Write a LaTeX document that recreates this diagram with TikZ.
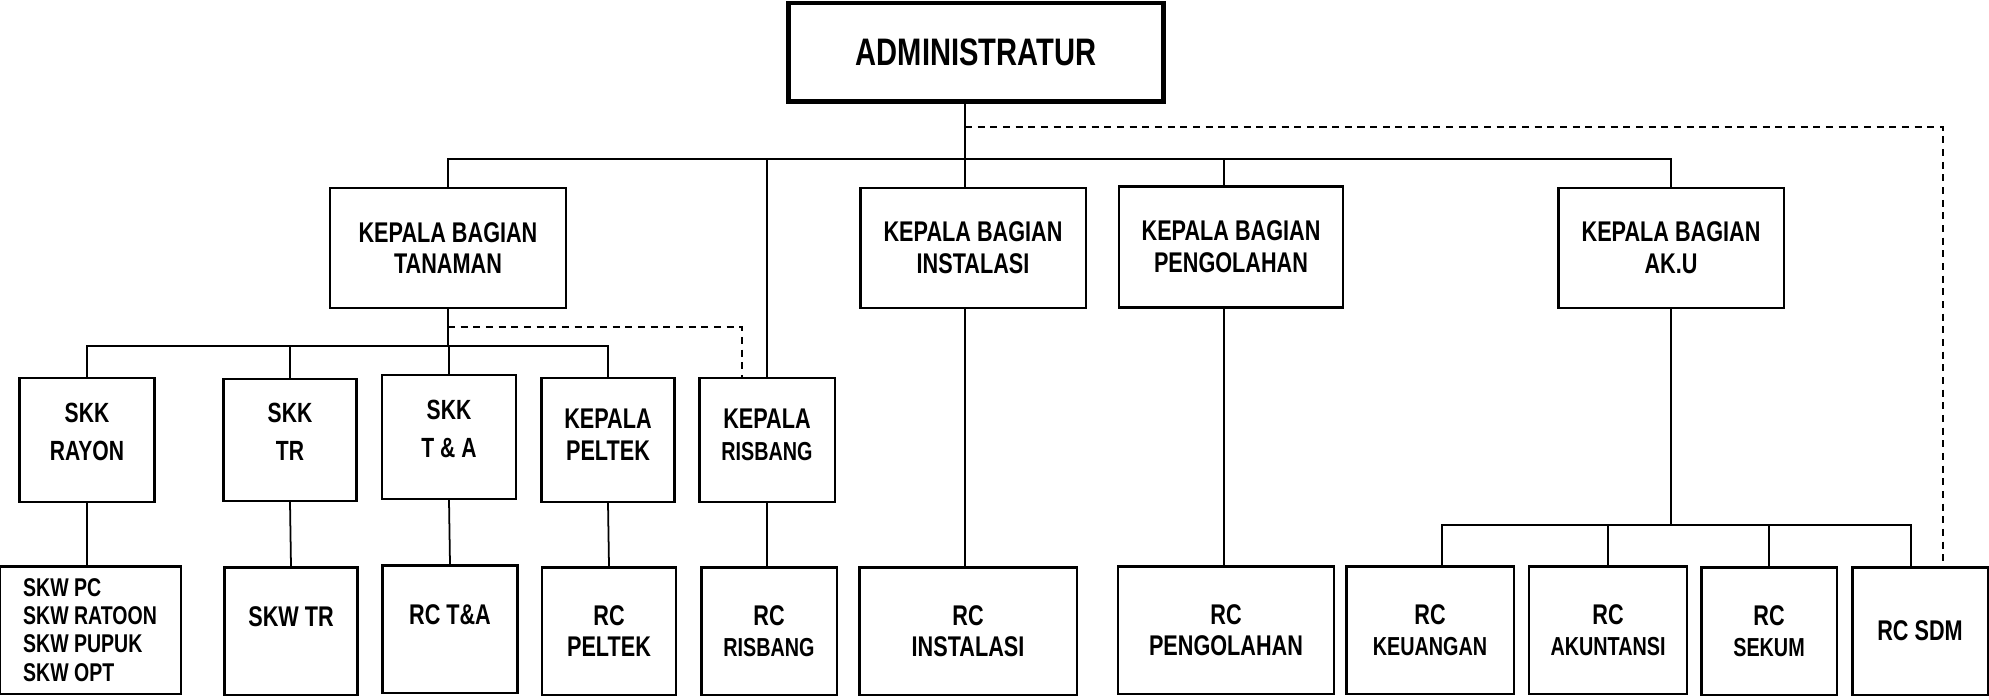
\documentclass[tikz,border=0pt]{standalone}
\usepackage{fontspec}
\setmainfont{Liberation Sans}[FakeStretch=0.76]
\usepackage{tikz}
\usetikzlibrary{positioning,calc}

\tikzset{
  unit/.style={draw, rectangle, line width=0.6pt, align=center, inner sep=1pt,
    font=\fontsize{8.1}{9}\selectfont\bfseries},
  skk/.style={unit, text depth=4.4pt, font=\fontsize{7.9}{10.8}\selectfont\bfseries},
  rc/.style={unit, minimum height=1.27cm},
  rcsmall/.style={rc, font=\fontsize{7.4}{8.8}\selectfont\bfseries},
  link/.style={line width=0.5pt},
  dashlink/.style={line width=0.5pt, dash pattern=on 2pt off 1.6pt}
}

\begin{document}
\begin{tikzpicture}[x=0.01cm, y=-0.01cm]
    \useasboundingbox (0,0) rectangle (1989,699);

    % Top
    \node [unit, line width=1.4pt, minimum width=3.75cm, minimum height=0.98cm,
      font=\fontsize{10.9}{12}\selectfont\bfseries] (admin) at (976,52) {ADMINISTRATUR};

    % Kepala bagian
    \node [unit, minimum width=2.36cm, minimum height=1.2cm] (kbt) at (448,248) {KEPALA BAGIAN\\TANAMAN};
    \node [unit, minimum width=2.25cm, minimum height=1.2cm] (kbi) at (973,248) {KEPALA BAGIAN\\INSTALASI};
    \node [unit, minimum width=2.24cm, minimum height=1.21cm] (kbp) at (1231,247) {KEPALA BAGIAN\\PENGOLAHAN};
    \node [unit, minimum width=2.25cm, minimum height=1.2cm] (kbu) at (1671,248) {KEPALA BAGIAN\\AK.U};

    % Under tanaman
    \node [skk, minimum width=1.35cm, minimum height=1.24cm] (rayon) at (87,440) {SKK\\RAYON};
    \node [skk, minimum width=1.33cm, minimum height=1.22cm] (skktr) at (290,440) {SKK\\TR};
    \node [skk, minimum width=1.34cm, minimum height=1.24cm] (skkta) at (449,437) {SKK\\T \& A};
    \node [unit, text depth=3pt, minimum width=1.33cm, minimum height=1.24cm] (peltek) at (608,440) {KEPALA\\PELTEK};
    \node [unit, text depth=3pt, minimum width=1.35cm, minimum height=1.24cm] (risbang) at (767,440) {KEPALA\\{\fontsize{7.4}{9}\selectfont RISBANG}};

    % RC row
    \node [rc, minimum width=1.81cm, align=left, font=\fontsize{7.3}{8}\selectfont\bfseries] (skwpc) at (90,630)
      {SKW PC\\SKW RATOON\\SKW PUPUK\\SKW OPT};
    \node [rc, text depth=8pt, minimum width=1.33cm] (skwtr) at (291,631) {SKW TR};
    \node [rc, text depth=8pt, minimum width=1.35cm] (rcta) at (450,629) {RC T\&A};
    \node [rc, minimum width=1.34cm] (rcpeltek) at (609,631) {RC\\PELTEK};
    \node [rcsmall, minimum width=1.35cm] (rcrisbang) at (769,631) {{\fontsize{8.1}{9}\selectfont RC}\\RISBANG};
    \node [rc, minimum width=2.17cm] (rcinst) at (968,631) {RC\\INSTALASI};
    \node [rc, minimum width=2.16cm] (rcpeng) at (1226,630) {RC\\PENGOLAHAN};
    \node [rcsmall, minimum width=1.67cm] (rckeu) at (1430,630) {{\fontsize{8.1}{9}\selectfont RC}\\KEUANGAN};
    \node [rcsmall, minimum width=1.58cm] (rcakun) at (1608,630) {{\fontsize{8.1}{9}\selectfont RC}\\AKUNTANSI};
    \node [rcsmall, minimum width=1.35cm] (rcsekum) at (1769,631) {{\fontsize{8.1}{9}\selectfont RC}\\SEKUM};
    \node [rc, minimum width=1.35cm] (rcsdm) at (1920,631) {RC SDM};

    % Buses
    \coordinate (topbus) at (0,159);
    \coordinate (topdash) at (0,127);
    \coordinate (tbus) at (0,346);
    \coordinate (tdash) at (0,327);
    \coordinate (akbus) at (0,525);
    \coordinate (instx) at ([xshift=-0.08cm]kbi.north);
    \coordinate (pengx) at ([xshift=-0.07cm]kbp.north);

    % Admin to kepala bagian
    \draw [link, line width=0.8pt] (instx |- admin.south) -- (instx);
    \draw [link, line width=0.8pt] (kbt.north) -- (kbt.north |- topbus) -- (kbu.north |- topbus) -- (kbu.north);
    \draw [link] (risbang.north |- topbus) -- (risbang.north);
    \draw [link] (pengx |- topbus) -- (pengx);
    \draw [dashlink] (instx |- topdash) -| ([xshift=0.23cm]rcsdm.north);

    % Tanaman to SKK
    \draw [link] (kbt.south) -- (kbt.south |- tbus);
    \draw [link] (rayon.north) -- (rayon.north |- tbus) -- (peltek.north |- tbus) -- (peltek.north);
    \draw [link] (skktr.north |- tbus) -- (skktr.north);
    \draw [link] (skkta.north |- tbus) -- (skkta.north);
    \draw [dashlink] (kbt.south |- tdash) -| ([xshift=-0.25cm]risbang.north);

    % Down to RC
    \draw [link] (rayon.south) -- (rayon.south |- skwpc.north);
    \draw [link] (skktr.south) -- (skwtr.north);
    \draw [link] (skkta.south) -- (rcta.north);
    \draw [link] (peltek.south) -- (rcpeltek.north);
    \draw [link] (risbang.south) -- (risbang.south |- rcrisbang.north);
    \draw [link] (instx |- kbi.south) -- (instx |- rcinst.north);
    \draw [link] (pengx |- kbp.south) -- (pengx |- rcpeng.north);

    % AK.U
    \draw [link, line width=0.8pt] (kbu.south) -- (kbu.south |- akbus);
    \draw [link] ([xshift=0.12cm]rckeu.north) |- ([xshift=-0.09cm]rcsdm.north |- akbus) -- ([xshift=-0.09cm]rcsdm.north);
    \draw [link] (rcakun.north |- akbus) -- (rcakun.north);
    \draw [link] (rcsekum.north |- akbus) -- (rcsekum.north);
\end{tikzpicture}
\end{document}
